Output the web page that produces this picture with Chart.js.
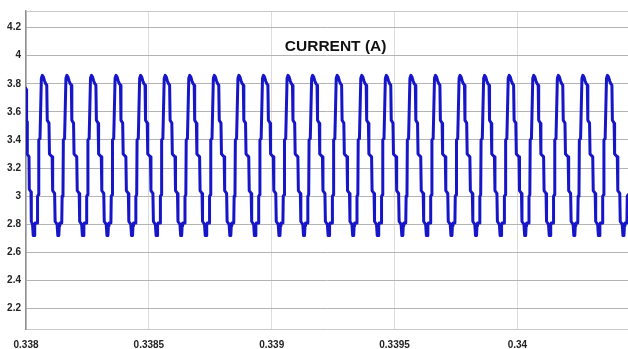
<!DOCTYPE html>
<html>
<head>
<meta charset="utf-8">
<script src="https://cdn.jsdelivr.net/npm/chart.js@4"></script>
<style>
  html, body { margin: 0; padding: 0; background: #fff; }
  #wrap { width: 628px; height: 349px; }
</style>
</head>
<body>
<div id="wrap"><canvas id="currentChart" width="628" height="349"></canvas></div>
<script>
// partial cycle at the left edge (s, A)
var leadTimes = [
  0.337998, 0.3380012, 0.3380024, 0.3380041, 0.3380053, 0.3380122, 0.3380134,
  0.3380204, 0.3380216, 0.3380265, 0.3380295, 0.3380315, 0.3380335, 0.3380355,
  0.3380375, 0.3380455, 0.338047, 0.3380505, 0.338052, 0.338057, 0.3380625,
];
var leadCurrent = [
  3.77, 3.76, 3.54, 3.53, 3.3, 3.28, 3.05,
  3.03, 2.82, 2.8, 2.72, 2.79, 2.72, 2.79,
  2.81, 2.81, 3.0, 3.01, 3.4, 3.41, 3.84,
];
// peak instants of the current waveform (s)
var peakTimes = [
  0.3380665, 0.3381665, 0.3382665, 0.3383665, 0.3384665,
  0.3385665, 0.3386665, 0.3387665, 0.3388665, 0.3389665, 0.3390665,
  0.3391665, 0.3392665, 0.3393665, 0.3394665, 0.3395665, 0.3396665,
  0.3397665, 0.3398665, 0.3399665, 0.3400665, 0.3401665, 0.3402665,
  0.3403665,
];
// one cycle, time after the peak (microseconds) and current (A)
var cycleOffsets = [
  0, 4, 9, 14, 18, 20, 27, 29, 40, 42, 50, 52, 60,
  63, 65, 67, 69, 71, 79, 80.5, 84, 85.5, 90.5, 96,
];
var cycleCurrent = [
  3.86, 3.85, 3.82, 3.8, 3.79, 3.54, 3.52, 3.3, 3.28, 3.04, 3.02, 2.82, 2.8,
  2.72, 2.79, 2.72, 2.79, 2.81, 2.81, 3.0, 3.01, 3.4, 3.41, 3.84,
];
var xTicks = [0.338, 0.3385, 0.339, 0.3395, 0.34];
var yTicks = [2.2, 2.4, 2.6, 2.8, 3, 3.2, 3.4, 3.6, 3.8, 4, 4.2];

// build the point list
var points = leadTimes.map(function (t, i) {
  return { x: t, y: leadCurrent[i] };
});
peakTimes.forEach(function (tp) {
  cycleOffsets.forEach(function (off, i) {
    points.push({ x: tp + off * 1e-6, y: cycleCurrent[i] });
  });
});

var tickFont = { family: "'Liberation Sans', Arial, sans-serif", size: 10, weight: "bold" };

// title drawn inside the plot, plus the thin top frame line
var innerTitle = {
  id: "innerTitle",
  beforeDatasetsDraw: function (chart) {
    var ctx = chart.ctx;
    var a = chart.chartArea;
    ctx.save();
    ctx.strokeStyle = "#c8c8c8";
    ctx.lineWidth = 1;
    ctx.beginPath();
    ctx.moveTo(a.left, a.top + 0.5);
    ctx.lineTo(a.right, a.top + 0.5);
    ctx.stroke();
    ctx.restore();
  },
  afterDatasetsDraw: function (chart) {
    var ctx = chart.ctx;
    var xs = chart.scales.x;
    var ys = chart.scales.y;
    ctx.save();
    ctx.font = "bold 15.5px 'Liberation Sans', Arial, sans-serif";
    ctx.fillStyle = "#111";
    ctx.textAlign = "center";
    ctx.textBaseline = "middle";
    ctx.fillText("CURRENT (A)", xs.getPixelForValue(0.33926), ys.getPixelForValue(4.065));
    ctx.restore();
  },
};

const ctx = document.getElementById("currentChart").getContext("2d");
const currentChart = new Chart(ctx, {
  type: "line",
  data: {
    datasets: [
      {
        label: "Current",
        data: points,
        borderColor: "#1616c8",
        borderWidth: 3,
        pointRadius: 0,
        tension: 0,
        fill: false,
        borderJoinStyle: "round",
        borderCapStyle: "round",
      },
    ],
  },
  options: {
    responsive: false,
    animation: false,
    devicePixelRatio: 1,
    layout: { padding: { top: 7, right: 0, bottom: 0, left: 0 } },
    plugins: { legend: { display: false }, tooltip: { enabled: false } },
    scales: {
      x: {
        type: "linear",
        min: 0.338,
        max: 0.34045,
        afterBuildTicks: function (scale) {
          scale.ticks = xTicks.map(function (v) { return { value: v }; });
        },
        afterFit: function (scale) { scale.height = 20; },
        ticks: {
          font: tickFont,
          color: "#222",
          padding: 10,
          maxRotation: 0,
          callback: function (v) { return String(v); },
        },
        grid: { color: "#dcdcdc", drawTicks: false },
        border: { color: "#c8c8c8", width: 1 },
      },
      y: {
        min: 2.055,
        max: 4.318,
        afterBuildTicks: function (scale) {
          scale.ticks = yTicks.map(function (v) { return { value: v }; });
        },
        afterFit: function (scale) { scale.width = 26; },
        ticks: {
          font: tickFont,
          color: "#222",
          padding: 5,
          callback: function (v) { return String(v); },
        },
        grid: { color: "#b4b4b4", drawTicks: false },
        border: { color: "#909090", width: 1.5 },
      },
    },
  },
  plugins: [innerTitle],
});
</script>
</body>
</html>
